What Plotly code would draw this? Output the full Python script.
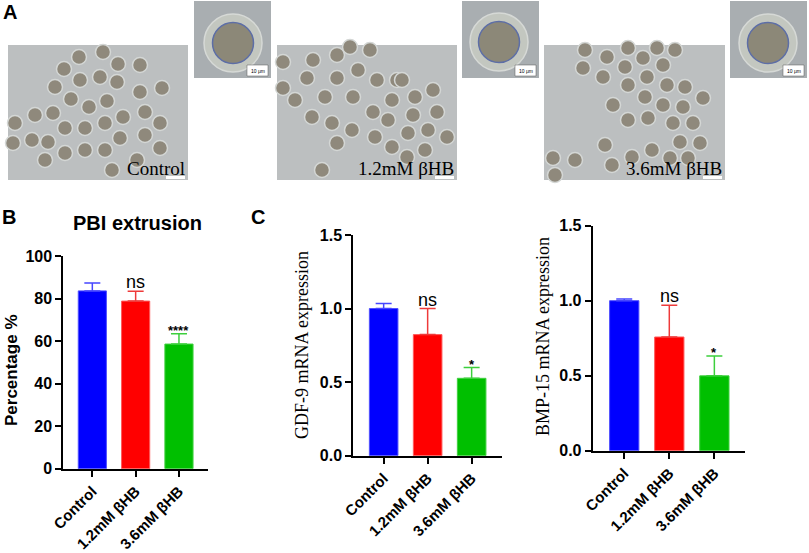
import plotly.graph_objects as go

W, H = 809, 553

# ---------------- data ----------------
groups = ["Control", "1.2mM βHB", "3.6mM βHB"]
pbi_pct = [83.6, 78.8, 58.6]
pbi_err = [3.7, 4.6, 4.9]
gdf9_expr = [1.00, 0.823, 0.526]
gdf9_err = [0.034, 0.177, 0.073]
bmp15_expr = [1.00, 0.758, 0.499]
bmp15_err = [0.011, 0.211, 0.133]
pbi_sig = ["", "ns", "****"]
gdf9_sig = ["", "ns", "*"]
bmp15_sig = ["", "ns", "*"]
pbi_ticks = [0, 20, 40, 60, 80, 100]
expr_ticks = [0.0, 0.5, 1.0, 1.5]
expr_ticklabels = ["0.0", "0.5", "1.0", "1.5"]
micro_labels = ["Control", "1.2mM βHB", "3.6mM βHB"]

# decorative micrograph content (pixel positions of oocytes in panel A)
oocyte_x = [79, 103, 118, 140, 64, 80, 100, 117, 55, 140, 162, 71, 89, 107, 53, 35, 123, 145, 160, 15,
            65, 85, 105, 120, 145, 32, 48, 13, 65, 85, 105, 160, 45, 137, 112,
            283, 313, 337, 350, 370, 307, 337, 358, 377, 397, 283, 295, 325, 353, 392, 312, 332, 352, 373,
            388, 375, 337, 392, 322, 402, 433, 415, 437, 413, 428, 408, 447, 425, 407,
            585, 607, 628, 643, 657, 675, 583, 603, 625, 663, 647, 628, 667, 685, 613, 645, 663, 683, 703,
            628, 648, 673, 693, 680, 700, 605, 652, 553, 575, 612, 632, 670, 688, 555]
oocyte_y = [57, 52, 64, 65, 69, 80, 77, 82, 87, 92, 88, 99, 107, 101, 113, 115, 117, 112, 123, 123,
            128, 128, 123, 138, 135, 140, 142, 143, 153, 150, 150, 148, 160, 160, 170,
            62, 60, 55, 47, 50, 78, 78, 70, 80, 80, 88, 100, 97, 97, 100, 117, 123, 130, 112,
            120, 137, 143, 147, 170, 80, 90, 97, 112, 115, 130, 133, 137, 150, 157,
            50, 57, 48, 58, 48, 50, 68, 77, 67, 65, 77, 85, 85, 87, 105, 97, 105, 107, 98,
            120, 118, 123, 123, 142, 143, 145, 150, 158, 160, 165, 157, 158, 158, 175]
inset_x = [233, 499, 768]
inset_y = [43, 42, 43]

blue, red, green = "#0000ff", "#ff0000", "#00bf00"
bar_colors = [blue, red, green]
err_colors = ["#4646ff", "#ee3a3a", "#3ccf3c"]
edge_colors = ["#5050ff", "#ff5a5a", "#40d040"]

ARIAL = "Liberation Sans, Arial, sans-serif"
TIMES = "Liberation Serif, Times New Roman, serif"


def px(x):
    return x / W


def py(y):
    return 1 - y / H


fig = go.Figure()

panels = [
    ("x", "y", pbi_pct, pbi_err, pbi_sig),
    ("x2", "y2", gdf9_expr, gdf9_err, gdf9_sig),
    ("x3", "y3", bmp15_expr, bmp15_err, bmp15_sig),
]

for xa, ya, vals, errs, sigs in panels:
    for i, g in enumerate(groups):
        fig.add_trace(go.Bar(
            x=[i], y=[vals[i]], xaxis=xa, yaxis=ya, width=0.65,
            marker=dict(color=bar_colors[i], line=dict(color=edge_colors[i], width=1)),
            error_y=dict(type="data", symmetric=False, array=[errs[i]], arrayminus=[0],
                         color=err_colors[i], thickness=1.5, width=8),
            showlegend=False, hoverinfo="skip",
        ))

# decorative micrograph oocytes on a pixel-space overlay axis
fig.add_trace(go.Scatter(
    x=oocyte_x, y=oocyte_y, xaxis="x4", yaxis="y4", mode="markers",
    marker=dict(size=15, color="#8f897c", line=dict(color="#d4d7d5", width=1.5)),
    showlegend=False, hoverinfo="skip",
))
fig.add_trace(go.Scatter(
    x=inset_x, y=inset_y, xaxis="x4", yaxis="y4", mode="markers",
    marker=dict(size=58, color="#c3c7c0", line=dict(color="#d6d9d6", width=1.5)),
    showlegend=False, hoverinfo="skip",
))
fig.add_trace(go.Scatter(
    x=inset_x, y=inset_y, xaxis="x4", yaxis="y4", mode="markers",
    marker=dict(size=41, color="#8c8878", line=dict(color="#5d6ea6", width=1.5)),
    showlegend=False, hoverinfo="skip",
))

# ---------------- axes ----------------
axis_common = dict(showline=True, linecolor="black", linewidth=2, ticks="outside",
                   tickcolor="black", tickwidth=2, ticklen=6, showgrid=False, zeroline=False,
                   fixedrange=True, automargin=False)
xtickfont = dict(family=ARIAL, size=15, color="black", weight="bold")
ytickfont = dict(family=ARIAL, size=16, color="black", weight="bold")


def xaxis(domain, rng, anchor):
    return dict(axis_common, domain=domain, range=rng, anchor=anchor, tickmode="array",
                tickvals=[0, 1, 2], ticktext=groups, tickangle=-45, tickfont=xtickfont)


fig.update_layout(
    width=W, height=H, margin=dict(l=0, r=0, t=0, b=0, autoexpand=False),
    paper_bgcolor="white", plot_bgcolor="rgba(0,0,0,0)",
    bargap=0.3, showlegend=False,
    xaxis=xaxis([px(63.3), px(208)], [-0.67, 2.67], "y"),
    yaxis=dict(axis_common, domain=[py(468.7), py(256)], range=[0, 100], anchor="x",
               tickmode="array", tickvals=pbi_ticks, tickfont=ytickfont),
    xaxis2=xaxis([px(353.3), px(502)], [-0.69, 2.69], "y2"),
    yaxis2=dict(axis_common, domain=[py(455.7), py(235)], range=[0, 1.5], anchor="x2",
                tickmode="array", tickvals=expr_ticks, ticktext=expr_ticklabels, tickfont=ytickfont),
    xaxis3=xaxis([px(592.7), px(745)], [-0.7, 2.68], "y3"),
    yaxis3=dict(axis_common, domain=[py(450.7), py(225.7)], range=[0, 1.5], anchor="x3",
                tickmode="array", tickvals=expr_ticks, ticktext=expr_ticklabels, tickfont=ytickfont),
    xaxis4=dict(domain=[0, 1], range=[0, W], visible=False, anchor="y4", fixedrange=True,
                automargin=False),
    yaxis4=dict(domain=[0, 1], range=[H, 0], visible=False, anchor="x4", fixedrange=True,
                automargin=False),
)

# ---------------- micrograph placeholders ----------------
shapes = []
main_imgs = [(8, 188), (277, 457), (544, 725)]
insets = [(194, 271), (462, 539), (730, 807)]
for (x0, x1) in main_imgs:
    shapes.append(dict(type="rect", xref="paper", yref="paper", x0=px(x0), x1=px(x1),
                       y0=py(180), y1=py(45), fillcolor="#bcbfc0", line=dict(width=0), layer="below"))
    shapes.append(dict(type="rect", xref="paper", yref="paper", x0=px(x1 - 22), x1=px(x1 - 3),
                       y0=py(179), y1=py(176), fillcolor="white", line=dict(width=0)))
for (x0, x1) in insets:
    shapes.append(dict(type="rect", xref="paper", yref="paper", x0=px(x0), x1=px(x1),
                       y0=py(78), y1=py(1), fillcolor="#a9aeb1", line=dict(width=0), layer="below"))
    shapes.append(dict(type="rect", xref="paper", yref="paper", x0=px(x1 - 24), x1=px(x1 - 3),
                       y0=py(76), y1=py(65), fillcolor="white", line=dict(color="#555", width=0.5)))
fig.update_layout(shapes=shapes)

ann = []
for (x0, x1), lab in zip(main_imgs, micro_labels):
    ann.append(dict(text=lab, xref="paper", yref="paper", x=px(x1 - 1), y=py(181), xanchor="right",
                    yanchor="bottom", showarrow=False, font=dict(family=TIMES, size=19, color="black")))
for (x0, x1) in insets:
    ann.append(dict(text="10 μm", xref="paper", yref="paper", x=px(x1 - 13.5), y=py(70.5),
                    xanchor="center", yanchor="middle", showarrow=False,
                    font=dict(family=ARIAL, size=5, color="black")))

# panel letters and titles
for letter, x, y in [("A", 10, 12), ("B", 9, 217), ("C", 258, 217)]:
    ann.append(dict(text=letter, xref="paper", yref="paper", x=px(x), y=py(y), xanchor="center",
                    yanchor="middle", showarrow=False,
                    font=dict(family=ARIAL, size=20, color="black", weight="bold")))
ann.append(dict(text="PBI extrusion", xref="paper", yref="paper", x=px(137), y=py(223),
                xanchor="center", yanchor="middle", showarrow=False,
                font=dict(family=ARIAL, size=20, color="black", weight="bold")))
ann.append(dict(text="Percentage %", xref="paper", yref="paper", x=px(11), y=py(370),
                xanchor="center", yanchor="middle", textangle=-90, showarrow=False,
                font=dict(family=ARIAL, size=17, color="black", weight="bold")))
ann.append(dict(text="GDF-9 mRNA expression", xref="paper", yref="paper", x=px(302), y=py(345),
                xanchor="center", yanchor="middle", textangle=-90, showarrow=False,
                font=dict(family=TIMES, size=18, color="black")))
ann.append(dict(text="BMP-15 mRNA expression", xref="paper", yref="paper", x=px(543), y=py(337),
                xanchor="center", yanchor="middle", textangle=-90, showarrow=False,
                font=dict(family=TIMES, size=18, color="black")))

# significance labels placed on the data scales
for (xa, ya, vals, errs, sigs) in panels:
    for i, s in enumerate(sigs):
        if not s:
            continue
        if s == "ns":
            font = dict(family=ARIAL, size=18, color="black")
            ys = -3
        else:
            font = dict(family=ARIAL, size=13, color="black", weight="bold")
            ys = -6
        ann.append(dict(text=s, xref=xa, yref=ya, x=i, y=vals[i] + errs[i], xanchor="center",
                        yanchor="bottom", yshift=ys, showarrow=False, font=font))

fig.update_layout(annotations=ann)

# remove the default page margin so the 809x553 figure fills the window exactly
fig.write_html("out.html", config={"displayModeBar": False, "staticPlot": True},
               post_script="document.body.style.margin='0';document.body.style.overflow='hidden';")
